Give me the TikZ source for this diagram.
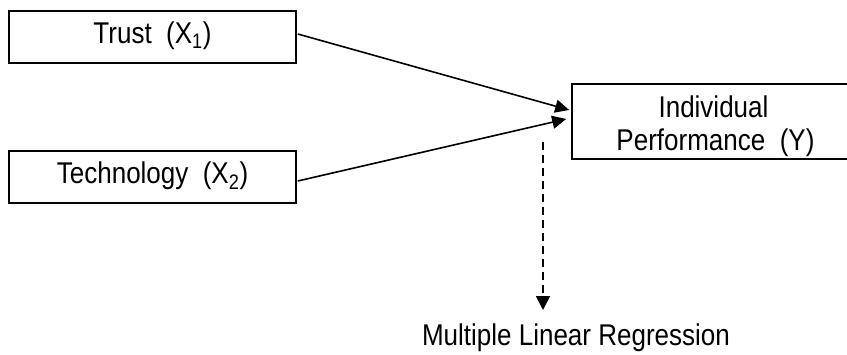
\documentclass[tikz,border=0pt]{standalone}
\usepackage{fontspec}
\setmainfont[FakeStretch=0.867]{Liberation Sans}
\usetikzlibrary{arrows.meta,calc}
\begin{document}
\begin{tikzpicture}[x=1pt,y=-1pt,
  txt/.style={font=\fontsize{30}{33}\selectfont},
  box/.style={draw,line width=1.6pt,minimum width=287pt,minimum height=52pt,inner sep=0pt,text height=22pt,text depth=10pt,txt},
  arr/.style={line width=1.6pt,-{Triangle[length=14pt,width=13pt]}},
  darr/.style={line width=1.6pt,dash pattern=on 8pt off 5pt,-{Triangle[length=14pt,width=14pt]}},
  lbl/.style={inner sep=0pt,anchor=base,txt}]
\useasboundingbox (0,0) rectangle (847,354);
\node[box] (b1) at (152.5,37) {Trust~~(X\textsubscript{1})};
\node[box] (b2) at (152.5,177) {Technology~~(X\textsubscript{2})};
\node[box,minimum width=277pt,minimum height=75pt] (b3) at (710.5,121.5) {};
\node[lbl] (t3a) at (713.5,117) {Individual};
\node[lbl] (t3b) at (715.5,150) {Performance~~(Y)};
\node[lbl] (mlr) at (576,345) {Multiple Linear Regression};
\coordinate (ds) at (543,142);
\coordinate (de) at (543,310);
\draw[arr] ($(b1.east)+(1,-3)$) -- ($(b3.west)+(-2,-11.5)$);
\draw[arr] ($(b2.east)+(1,4)$) -- ($(b3.west)+(-5,-2.5)$);
\draw[darr] (ds) -- (de);
\end{tikzpicture}
\end{document}
